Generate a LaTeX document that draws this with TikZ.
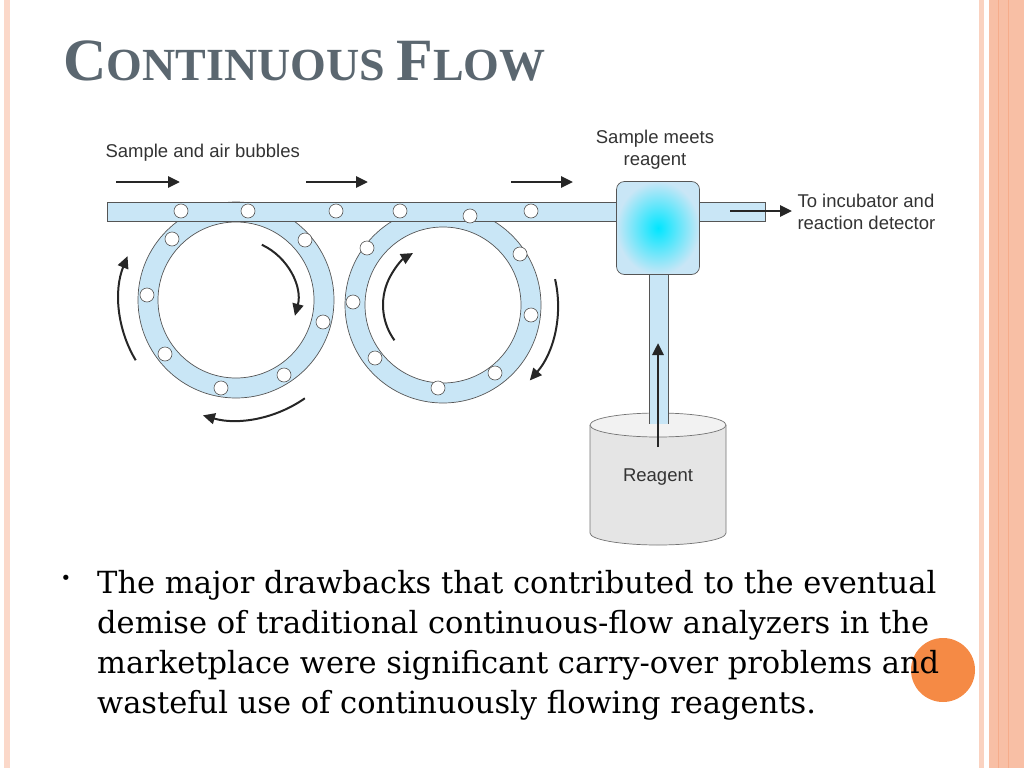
\documentclass[tikz,border=0pt]{standalone}
\usepackage{fontspec}
\setmainfont{Liberation Serif}
\newfontfamily\dsans{Liberation Sans}
\newfontfamily\bodyf{DejaVu Serif}
\usetikzlibrary{arrows.meta,calc}
\definecolor{tube}{HTML}{C9E6F6}
\definecolor{edge}{HTML}{555555}
\definecolor{peach}{HTML}{F8BFA5}
\definecolor{titlec}{HTML}{5B6770}
\definecolor{dot}{HTML}{F58A45}
\begin{document}
\begin{tikzpicture}[x=1pt,y=-1pt,
  lbl/.style={font=\dsans\fontsize{18.5}{22}\selectfont,text=black!80,align=center},
  bub/.style={circle,draw=edge,fill=white,line width=0.6pt,minimum size=14pt,inner sep=0pt},
  flow/.style={-{Triangle[length=12pt,width=11pt]},line width=2.8pt,black!85},
  carc/.style={-{Triangle[length=12pt,width=11pt]},line width=2pt,black!85},
  tb/.style={fill=tube,draw=edge,line width=0.7pt}]
\useasboundingbox (0,0) rectangle (1024,768);
% border
\fill[peach!60] (4,0) rectangle (10,768);
\fill[peach!70] (979,0) rectangle (984,768);
\fill[peach] (989,0) rectangle (1024,768);
\draw[peach!130,line width=0.8pt] (998,0) -- (998,768) (1008,0) -- (1008,768);
% title
\node[anchor=base west,text=titlec,font=\bfseries,inner sep=0pt] (title) at (63,80)
  {\fontsize{60}{66}\selectfont C\fontsize{46}{50}\selectfont ONTINUOUS \fontsize{60}{66}\selectfont F\fontsize{46}{50}\selectfont LOW};
% rings
\coordinate (c1) at (236,300);
\coordinate (c2) at (443,305);
\fill[tube,even odd rule] (c1) circle[radius=98] (c1) circle[radius=78];
\draw[edge,line width=0.7pt] (c1) circle[radius=98] (c1) circle[radius=78];
\fill[tube,even odd rule] (c2) circle[radius=98] (c2) circle[radius=78];
\draw[edge,line width=0.7pt] (c2) circle[radius=98] (c2) circle[radius=78];
% tubes
\draw[tb] (107,202) rectangle (620,221);
\draw[tb] (697,202) rectangle (765,221);
\draw[tb] (649,272) rectangle (668,425);
% mixer
\node[draw=edge,line width=0.7pt,rounded corners=8pt,minimum width=83pt,minimum height=93pt,
  inner sep=0pt,inner color=cyan!90!blue,outer color=tube] (mix) at (658,228) {};
% bubbles
\foreach \x/\y [count=\i] in {181/211,248/211,336/211,400/211,531/211,
  172/239,305/240,147/295,323/322,165/354,221/388,284/375,
  470/216,367/248,520/254,353/302,531/315,375/358,438/388,495/373}
  \node[bub] (b\i) at (\x,\y) {};
% top arrows
\foreach \a/\b [count=\i] in {116/180,306/368,511/573}{
  \coordinate (s\i) at (\a,182); \coordinate (e\i) at (\b,182);
  \draw[flow] (s\i) -- (e\i);}
\coordinate (os) at (730,211); \coordinate (oe) at (792,211);
\draw[flow] (os) -- (oe);
% curved arrows
\draw[carc] ($(c1)+(-65:61)$) arc[start angle=-65,end angle=15,radius=61];
\draw[carc] ($(c1)+(149:117)$) arc[start angle=149,end angle=202,radius=117];
\draw[carc] ($(c1)+(55:120)$) arc[start angle=55,end angle=106,radius=120];
\draw[carc] ($(c2)+(144:60)$) arc[start angle=144,end angle=240,radius=60];
\draw[carc] ($(c2)+(-13:115)$) arc[start angle=-13,end angle=41,radius=115];
% reagent cylinder
\fill[black!10] (590,425) -- (590,533) arc[start angle=180,end angle=0,x radius=68,y radius=12] -- (726,425) -- cycle;
\draw[black!55,line width=0.7pt] (590,425) -- (590,533) arc[start angle=180,end angle=0,x radius=68,y radius=12] -- (726,425);
\draw[black!55,fill=black!5,line width=0.7pt] (658,425) ellipse[x radius=68,y radius=12];
\fill[tube] (649.4,410) rectangle (667.6,424);
\draw[edge,line width=0.7pt] (649,400) -- (649,424) (668,400) -- (668,424);
\coordinate (rs) at (658,447); \coordinate (re) at (658,343);
\draw[flow] (rs) -- (re);
\node[lbl] (reag) at (658,477) {Reagent};
% labels
\node[lbl,anchor=west] (l1) at (102,153) {Sample and air bubbles};
\node[lbl,font=\dsans\fontsize{18.5}{22}\selectfont] (l2) at (655,150) {Sample meets\\reagent};
\node[lbl,anchor=west,align=left,font=\dsans\fontsize{18.5}{22}\selectfont] (l3) at (794,212) {To incubator and\\reaction detector};
% orange dot
\fill[dot] (943,670) circle[radius=32];
% bullet
\node[anchor=center,font=\bodyf\fontsize{18}{20}\selectfont,inner sep=0pt] (bul) at (66,580) {•};
\node[anchor=north west,align=left,inner sep=0pt,font=\bodyf\fontsize{30.5}{40}\selectfont] (body) at (97,570)
 {The major drawbacks that contributed to the eventual\\
  demise of traditional continuous-flow analyzers in the\\
  marketplace were significant carry-over problems and\\
  wasteful use of continuously flowing reagents.};
\end{tikzpicture}
\end{document}
